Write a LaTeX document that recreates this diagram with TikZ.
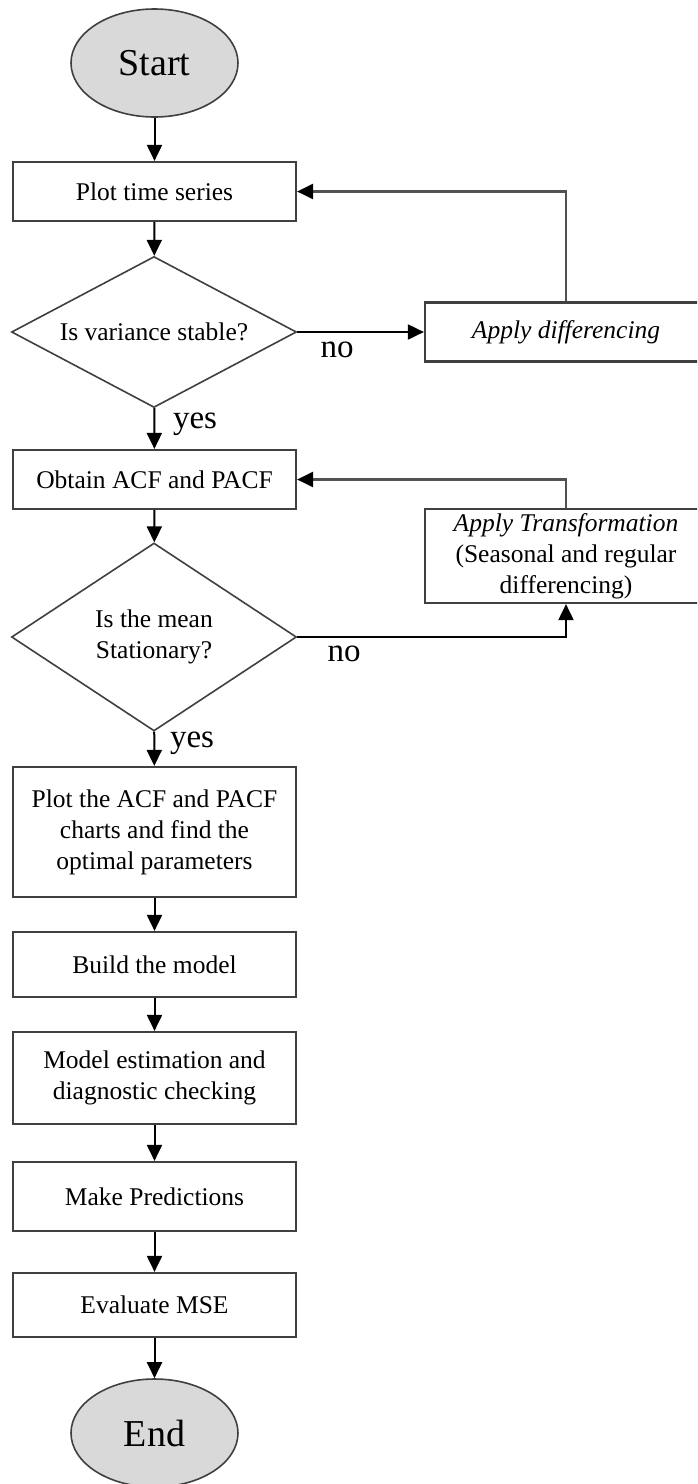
\documentclass[tikz,border=0pt]{standalone}
\usepackage{fontspec}
\setmainfont{Liberation Serif}
\usetikzlibrary{shapes.geometric,arrows.meta}
\definecolor{termfill}{HTML}{D9D9D9}
\definecolor{edgegray}{HTML}{404040}
\begin{document}
\begin{tikzpicture}[x=1pt,y=-1pt,
  boxtxt/.style={font=\fontsize{25.5}{31}\selectfont},
  procbox/.style={rectangle,draw=edgegray,line width=2.2pt,fill=white,inner sep=0pt,
    minimum width=283pt,align=center,boxtxt},
  sidebox/.style={procbox,minimum width=282pt},
  term/.style={ellipse,draw=edgegray,line width=1.6pt,fill=termfill,inner sep=0pt,
    minimum width=167pt,minimum height=108pt,font=\fontsize{38}{44}\selectfont},
  decision/.style={diamond,draw=edgegray,line width=1.6pt,fill=white,inner sep=0pt,
    minimum width=285pt,align=center,boxtxt},
  flow/.style={draw=black,line width=2pt,-{Triangle[length=16pt,width=15pt]}},
  loop/.style={draw=black!68,line width=2.4pt,-{Triangle[length=16pt,width=15pt,color=black]}},
  lbl/.style={font=\fontsize{33}{38}\selectfont,inner sep=0pt}
]
\clip (0,0) rectangle (697,1484);
\fill[white] (0,0) rectangle (697,1484);

% main column
\node[term] (start) at (154.5,63) {Start};
\node[procbox,minimum height=59pt] (plot) at (154.5,191.5) {Plot time series};
\node[decision,aspect=1.9,minimum height=151pt] (var) at (154,332) {Is variance stable?};
\node[procbox,minimum height=59pt] (acf) at (154.5,479.5) {Obtain ACF and PACF};
\node[decision,aspect=1.5,minimum height=188pt] (stat) at (154,637) {Is the mean\\Stationary?};
\node[procbox,minimum height=130pt] (pars) at (154.5,832) {Plot the ACF and PACF\\charts and find the\\optimal parameters};
\node[procbox,minimum height=65pt] (build) at (154.5,964.5) {Build the model};
\node[procbox,minimum height=92pt] (est) at (154.5,1078) {Model estimation and\\diagnostic checking};
\node[procbox,minimum height=69pt] (pred) at (154.5,1196.5) {Make Predictions};
\node[procbox,minimum height=64pt] (mse) at (154.5,1305) {Evaluate MSE};
\node[term] (end) at (154.5,1433) {End};

% side column
\node[sidebox,minimum height=59pt] (diff) at (566,332) {\itshape Apply differencing};
\node[sidebox,minimum height=94pt] (trans) at (566,556) {{\itshape Apply Transformation}\\(Seasonal and regular\\differencing)};

% connectors
\draw[flow] (start) -- (plot);
\draw[flow] (plot) -- (var);
\draw[flow] (var) -- (acf);
\draw[flow] (acf) -- (stat);
\draw[flow] (stat) -- (pars);
\draw[flow] (pars) -- (build);
\draw[flow] (build) -- (est);
\draw[flow] (est) -- (pred);
\draw[flow] (pred) -- (mse);
\draw[flow] (mse) -- (end);

\draw[flow] (var.east) -- (diff.west);
\draw[loop] (diff.north) |- (plot.east);
\draw[flow] (stat.east) -| (trans.south);
\draw[loop] (trans.north) |- (acf.east);

% branch labels
\node[lbl] (yes1) at (195,424) {yes};
\node[lbl] (no1) at (337,350) {no};
\node[lbl] (no2) at (344,654) {no};
\node[lbl] (yes2) at (192,743) {yes};
\end{tikzpicture}
\end{document}
